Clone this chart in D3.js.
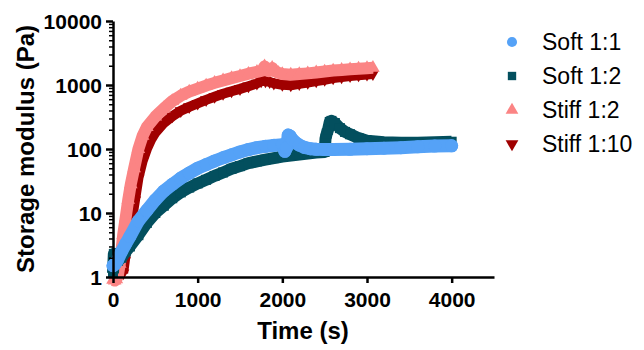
<!DOCTYPE html>
<html>
<head>
<meta charset="utf-8">
<script src="https://cdn.jsdelivr.net/npm/d3@7"></script>
<style>
  body { margin: 0; background: #fff; }
  text { font-family: "Liberation Sans", Arial, sans-serif; }
</style>
</head>
<body>
<div id="chart"></div>
<script>
// Series data (time in s, modulus in Pa)
const soft11T = [0, 25, 50, 100, 150, 200, 300, 400, 500, 600, 700, 800, 900, 1000, 1100, 1200, 1300, 1400, 1500, 1600, 1700, 1800, 1900, 2000, 2030, 2050, 2070, 2090, 2120, 2160, 2200, 2260, 2330, 2400, 2500, 2600, 2800, 3000, 3200, 3400, 3600, 3800, 4000];
const soft11V = [1.5, 1.6, 1.8, 2.5, 3.3, 4.3, 7.5, 11, 16, 22, 28, 35, 42, 50, 57, 65, 73, 81, 90, 98, 105, 110, 114, 117, 92, 105, 165, 160, 140, 125, 115, 106, 101, 99, 98, 98, 99, 101, 103, 105, 108, 111, 112];

const soft12T = [0, 10, 30, 60, 100, 150, 200, 300, 400, 500, 600, 700, 800, 900, 1000, 1100, 1200, 1300, 1400, 1500, 1600, 1700, 1800, 1900, 2000, 2100, 2200, 2300, 2400, 2500, 2510, 2525, 2540, 2560, 2580, 2620, 2680, 2740, 2800, 2900, 3000, 3200, 3400, 3600, 3800, 4000];
const soft12V = [1.15, 2.3, 1.7, 1.8, 2.0, 2.5, 3.0, 4.5, 7, 10, 13, 17, 21, 25, 29, 33, 38, 43, 49, 54, 60, 64, 68, 72, 76, 79, 82, 85, 88, 90, 145, 175, 200, 265, 275, 255, 212, 185, 170, 148, 135, 128, 125, 125, 127, 130];

const stiff12T = [0, 20, 40, 60, 80, 100, 120, 150, 180, 210, 250, 300, 350, 400, 500, 600, 700, 800, 900, 1000, 1100, 1200, 1300, 1400, 1500, 1600, 1700, 1760, 1790, 1810, 1840, 1880, 1900, 1950, 2000, 2100, 2200, 2300, 2400, 2500, 2600, 2700, 2800, 2900, 3000, 3070];
const stiff12V = [0.9, 0.88, 0.92, 1.1, 1.6, 2.6, 4.5, 8.5, 16, 28, 50, 100, 160, 220, 320, 430, 560, 680, 790, 880, 980, 1080, 1180, 1280, 1380, 1500, 1600, 1680, 1950, 1700, 1650, 1850, 1700, 1550, 1480, 1450, 1480, 1520, 1570, 1620, 1680, 1720, 1760, 1800, 1830, 1860];

const stiff110T = [120, 140, 160, 180, 200, 230, 260, 300, 350, 400, 450, 500, 600, 700, 800, 900, 1000, 1100, 1200, 1300, 1400, 1500, 1600, 1700, 1750, 1800, 1850, 1900, 2000, 2100, 2200, 2300, 2400, 2500, 2600, 2700, 2800, 2900, 3000, 3070];
const stiff110V = [1.15, 1.8, 2.8, 4.3, 6, 9, 16, 35, 65, 100, 140, 180, 255, 325, 395, 455, 515, 585, 655, 730, 800, 870, 960, 1060, 1150, 1150, 1120, 1060, 1010, 990, 1040, 1090, 1150, 1210, 1280, 1330, 1380, 1420, 1460, 1490];

const seriesNames = ["Soft 1:1", "Soft 1:2", "Stiff 1:2", "Stiff 1:10"];
const xTicks = [0, 1000, 2000, 3000, 4000];
const yTicks = [1, 10, 100, 1000, 10000];

const series = [
  { name: seriesNames[0], t: soft11T, v: soft11V, color: "#55a2f7", symbol: d3.symbolCircle, size: 133, lw: 13 },
  { name: seriesNames[1], t: soft12T, v: soft12V, color: "#034f5e", symbol: d3.symbolSquare, size: 100, lw: 12 },
  { name: seriesNames[2], t: stiff12T, v: stiff12V, color: "#fb8484", symbol: d3.symbolTriangle, size: 80, lw: 12 },
  { name: seriesNames[3], t: stiff110T, v: stiff110V, color: "#a00000", symbol: d3.symbolTriangle, size: 65, lw: 10, flip: true }
];

const W = 644, H = 350;
const svg = d3.select("#chart").append("svg")
  .attr("width", W).attr("height", H);

const x = d3.scaleLinear().domain([0, 4500]).range([113, 494]);
const y = d3.scaleLog().domain([1, 10000]).range([277, 21]);

// draw last dataset first so Soft 1:1 ends up on top
const plot = svg.append("g");
series.slice().reverse().forEach(s => {
  const pts = s.t.map((t, i) => [t, s.v[i]]);
  plot.append("path")
    .datum(pts)
    .attr("fill", "none")
    .attr("stroke", s.color)
    .attr("stroke-width", s.lw)
    .attr("stroke-linejoin", "round")
    .attr("stroke-linecap", s.symbol === d3.symbolCircle ? "round" : "butt")
    .attr("d", d3.line().x(d => x(d[0])).y(d => y(d[1])));
  plot.selectAll(null)
    .data(pts)
    .enter()
    .append("path")
    .attr("fill", s.color)
    .attr("transform", d => "translate(" + x(d[0]) + "," + y(d[1]) + ")" + (s.flip ? " rotate(180)" : ""))
    .attr("d", d3.symbol().type(s.symbol).size(s.size));
});

// axes
const minorY = [];
[1, 10, 100, 1000].forEach(b => { for (let k = 2; k <= 9; k++) minorY.push(b * k); });

svg.append("g")
  .attr("transform", "translate(113,0)")
  .call(d3.axisLeft(y).tickValues(minorY).tickSize(4).tickFormat(""))
  .call(g => g.select(".domain").remove())
  .call(g => g.selectAll("line").attr("stroke", "#000").attr("stroke-width", 1.5));

const yAxis = svg.append("g")
  .attr("transform", "translate(113,0)")
  .call(d3.axisLeft(y).tickValues(yTicks).tickSize(7).tickSizeOuter(0).tickPadding(4).tickFormat(d3.format("d")));

const xAxis = svg.append("g")
  .attr("transform", "translate(0,277)")
  .call(d3.axisBottom(x).tickValues(xTicks).tickSize(6).tickSizeOuter(0).tickPadding(9).tickFormat(d3.format("d")));

[yAxis, xAxis].forEach(g => {
  g.select(".domain").attr("stroke", "#000").attr("stroke-width", 2.5);
  g.selectAll(".tick line").attr("stroke", "#000").attr("stroke-width", 2.5);
  g.selectAll(".tick text")
    .attr("fill", "#000")
    .style("font-family", "'Liberation Sans', Arial, sans-serif")
    .style("font-size", "21px")
    .style("font-weight", "bold");
});
yAxis.selectAll(".tick text").attr("dy", "0.36em");

// axis titles
svg.append("text")
  .attr("x", 303).attr("y", 339)
  .attr("text-anchor", "middle")
  .style("font-size", "24px").style("font-weight", "bold")
  .text("Time (s)");

svg.append("text")
  .attr("transform", "translate(34,149) rotate(-90)")
  .attr("text-anchor", "middle")
  .style("font-size", "24px").style("font-weight", "bold")
  .text("Storage modulus (Pa)");

// legend
const legend = svg.append("g");
series.forEach((s, i) => {
  const ly = 42 + i * 34;
  legend.append("path")
    .attr("fill", s.color)
    .attr("transform", "translate(512," + ly + ")" + (s.flip ? " rotate(180)" : ""))
    .attr("d", d3.symbol().type(s.symbol).size(s.symbol === d3.symbolCircle ? 80 : 70));
  legend.append("text")
    .attr("x", 542).attr("y", ly + 8)
    .style("font-size", "23px")
    .attr("fill", "#000")
    .text(s.name);
});
</script>
</body>
</html>
